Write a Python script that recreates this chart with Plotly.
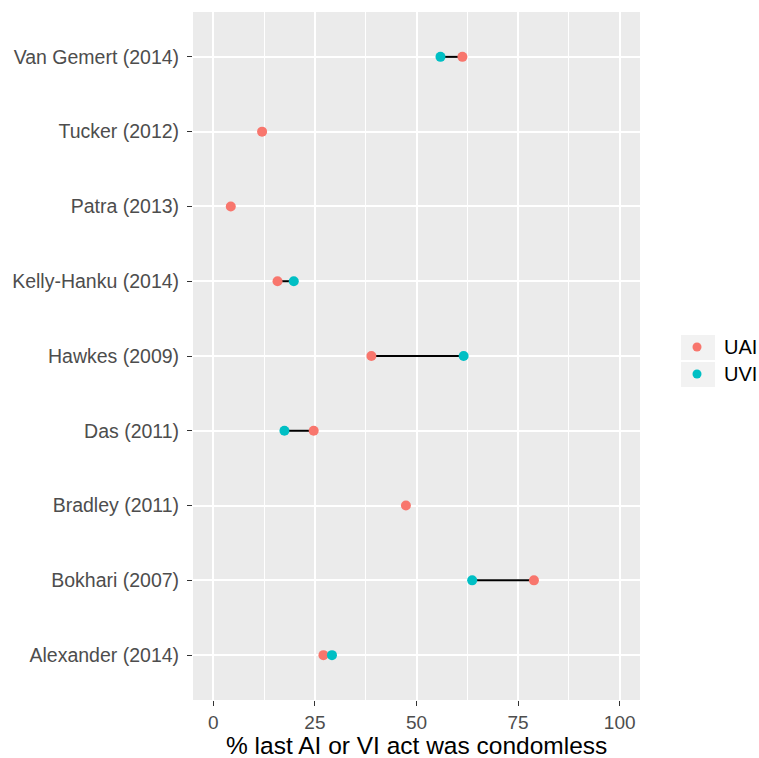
import plotly.graph_objects as go

# Studies, listed bottom to top on the y axis
studies = [
    "Alexander (2014)", "Bokhari (2007)", "Bradley (2011)", "Das (2011)",
    "Hawkes (2009)", "Kelly-Hanku (2014)", "Patra (2013)", "Tucker (2012)",
    "Van Gemert (2014)",
]
# % of last anal / vaginal intercourse that was condomless (None = not reported)
uai = [27.1, 78.9, 47.4, 24.7, 38.9, 15.8, 4.3, 12.0, 61.3]
uvi = [29.2, 63.7, None, 17.5, 61.6, 19.8, None, None, 55.9]
x_ticks = [0, 25, 50, 75, 100]
legend_labels = ["UAI", "UVI"]
x_title = "% last AI or VI act was condomless"

W, H = 759, 758
ML, MR, MT, MB = 193, 119, 12, 58
PW, PH = W - ML - MR, H - MT - MB

FONT = "Liberation Sans, Arial, sans-serif"
RED, TEAL = "#F8766D", "#00BFC4"
legend_colors = [RED, TEAL]

# connecting segments between the two measures of each study
seg_x, seg_y = [], []
for s, a, v in zip(studies, uai, uvi):
    if a is not None and v is not None:
        seg_x += [a, v, None]
        seg_y += [s, s, None]

fig = go.Figure()
fig.add_trace(go.Scatter(x=seg_x, y=seg_y, mode="lines",
                         line=dict(color="black", width=2),
                         showlegend=False, hoverinfo="skip"))
fig.add_trace(go.Scatter(x=uai, y=studies, mode="markers", name="UAI",
                         marker=dict(color=RED, size=10), showlegend=False))
fig.add_trace(go.Scatter(x=uvi, y=studies, mode="markers", name="UVI",
                         marker=dict(color=TEAL, size=10), showlegend=False))


def px_x(p):
    return (p - ML) / PW


def px_y(p):
    return (H - MB - p) / PH


# legend drawn in the right margin: grey key boxes, coloured dots, labels
shapes, annotations = [], []
for i, (lab, col) in enumerate(zip(legend_labels, legend_colors)):
    top = 335 + i * 27
    cy = top + 12
    shapes.append(dict(type="rect", xref="paper", yref="paper",
                       x0=px_x(681), x1=px_x(715), y0=px_y(top + 25), y1=px_y(top),
                       fillcolor="#F2F2F2", line=dict(width=0)))
    shapes.append(dict(type="circle", xref="paper", yref="paper",
                       x0=px_x(697 - 4.5), x1=px_x(697 + 4.5),
                       y0=px_y(cy + 4.5), y1=px_y(cy - 4.5),
                       fillcolor=col, line=dict(width=0)))
    annotations.append(dict(text=lab, xref="paper", yref="paper",
                            x=px_x(722), y=px_y(cy), xanchor="left", yanchor="middle",
                            showarrow=False, font=dict(size=20, color="black",
                                                       family=FONT)))

# x-axis title, sitting at the foot of the figure under the tick labels
annotations.append(dict(text=x_title, xref="paper", yref="paper",
                        x=0.5, y=px_y(760), xanchor="center", yanchor="bottom",
                        showarrow=False, borderpad=0,
                        font=dict(size=24.5, color="black", family=FONT)))

fig.update_layout(
    width=W, height=H,
    margin=dict(l=ML, r=MR, t=MT, b=MB, pad=0),
    paper_bgcolor="white", plot_bgcolor="#EBEBEB",
    font=dict(family=FONT, size=20, color="#4D4D4D"),
    shapes=shapes, annotations=annotations,
    showlegend=False,
    xaxis=dict(
        range=[-5, 105], tickvals=x_ticks, ticktext=[str(t) for t in x_ticks],
        showgrid=True, gridcolor="white", gridwidth=1.6, zeroline=False,
        ticks="outside", ticklen=5, tickwidth=1.2, tickcolor="#333333",
        tickfont=dict(size=19, color="#4D4D4D"), ticklabelstandoff=0,
        minor=dict(tickvals=[12.5, 37.5, 62.5, 87.5], showgrid=True,
                   gridcolor="white", gridwidth=0.8, ticks=""),
        showline=False, automargin=False,
    ),
    yaxis=dict(
        type="category", categoryorder="array", categoryarray=studies,
        range=[-0.6, len(studies) - 0.4],
        showgrid=True, gridcolor="white", gridwidth=1.6, zeroline=False,
        ticks="outside", ticklen=5, tickwidth=1.2, tickcolor="#333333",
        tickfont=dict(size=19.5, color="#4D4D4D"), ticklabelstandoff=4,
        showline=False, automargin=False,
    ),
)

fig.write_html("out.html")
